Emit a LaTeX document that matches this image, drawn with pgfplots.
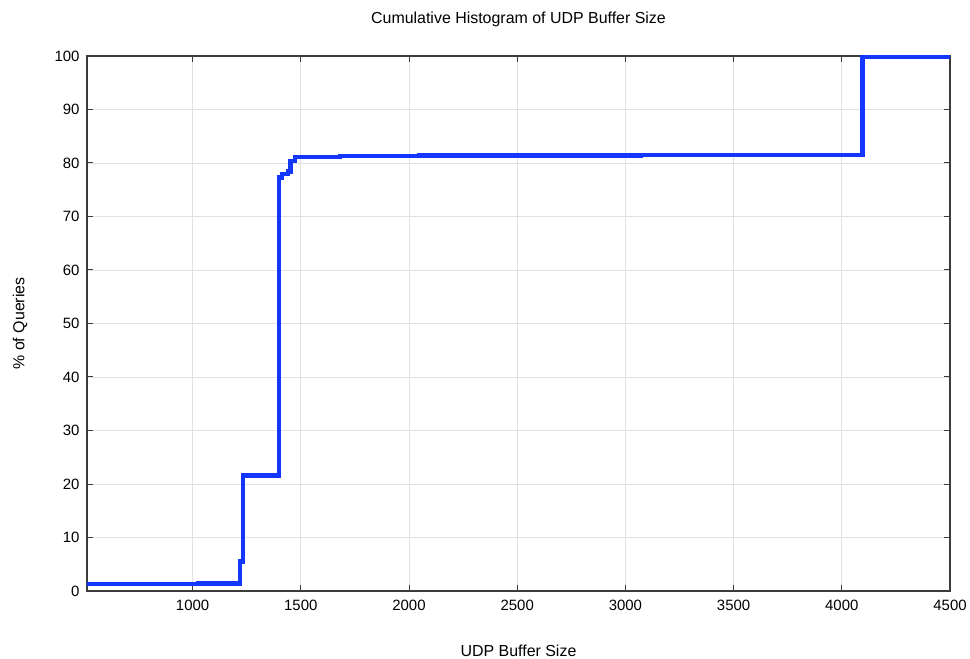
\documentclass[border=0pt]{standalone}
\usepackage{pgfplots}
\pgfplotsset{compat=1.18}
\usepackage{fontspec}
\setmainfont{Liberation Sans}
\definecolor{lineblue}{RGB}{20,55,255}
\definecolor{gridgray}{RGB}{225,225,225}
\definecolor{axgray}{RGB}{60,60,60}
\begin{document}
\begin{tikzpicture}
\useasboundingbox (-87bp,-68bp) rectangle (883bp,591bp);
\begin{axis}[
  at={(0,0)}, anchor=south west,
  scale only axis, width=863bp, height=535bp,
  xmin=512, xmax=4500, ymin=0, ymax=100,
  xtick={1000,1500,...,4500}, ytick={0,10,...,100},
  grid=major, major grid style={gridgray, line width=0.8pt},
  axis line style={axgray, line width=1.2pt},
  tick style={axgray, line width=1pt}, major tick length=6bp,
  tick align=inside, xtick pos=both, ytick pos=both,
  xticklabel pos=lower, yticklabel pos=left,
  /pgf/number format/assume math mode=true,
  /pgf/number format/1000 sep={},
  tick label style={font=\fontsize{15}{17}\selectfont},
  xticklabel style={yshift=-6bp},
  yticklabel style={xshift=-4bp},
  label style={font=\fontsize{16}{18}\selectfont},
  xlabel={UDP Buffer Size}, ylabel={\% of Queries},
  xlabel style={at={(axis description cs:0.5,0)}, anchor=center, yshift=-60bp},
  ylabel style={at={(axis description cs:-0.0776,0.5)}, anchor=center},
  title={Cumulative Histogram of UDP Buffer Size},
  title style={font=\fontsize{16}{18}\selectfont, at={(axis description cs:0.5,1)}, anchor=center, yshift=31bp},
]
\addplot[const plot, lineblue, line width=4.4bp, line join=miter] coordinates {
(512,1.3) (1024,1.4) (1220,5.5) (1232,21.6) (1400,77.3) (1412,77.9) (1440,78.4) (1452,80.4) (1472,81.1) (1680,81.3) (2048,81.4) (3072,81.5) (4096,99.8) (4500,99.8)
};
\end{axis}
\end{tikzpicture}
\end{document}
